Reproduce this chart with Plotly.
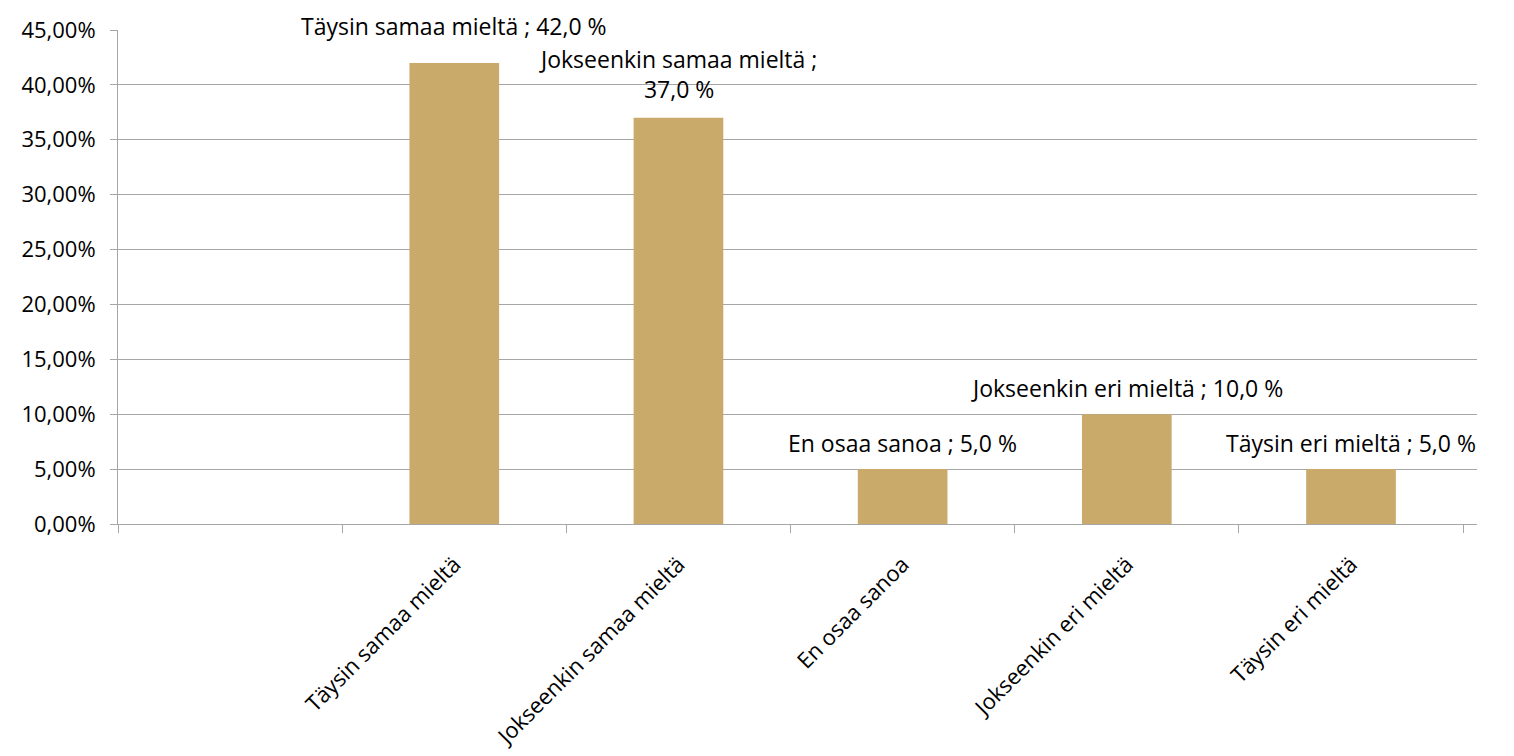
import plotly.graph_objects as go

# Data
categories = ["", "Täysin samaa mieltä", "Jokseenkin samaa mieltä", "En osaa sanoa",
              "Jokseenkin eri mieltä", "Täysin eri mieltä"]
values = [None, 42.0, 37.0, 5.0, 10.0, 5.0]
y_ticks = [0, 5, 10, 15, 20, 25, 30, 35, 40, 45]

# Style
bar_color = "#C9AA6A"
grid_color = "#A6A6A6"
font_family = "Open Sans"
label_shift = [0, 20, 12, 9, 9, 9]
label_break = [False, False, True, False, False, False]

fig = go.Figure()
fig.add_trace(go.Bar(
    x=categories, y=[v if v is not None else 0 for v in values],
    marker=dict(color=bar_color, line=dict(width=0)),
    width=0.4, hoverinfo="skip",
))

for i, (c, v) in enumerate(zip(categories, values)):
    if v is None:
        continue
    val = f"{v:.1f}".replace(".", ",") + " %"
    sep = " ;<br>" if label_break[i] else " ; "
    fig.add_annotation(
        x=c, y=v, text=f"{c}{sep}{val}", showarrow=False,
        yanchor="bottom", xanchor="center", yshift=label_shift[i],
        borderpad=0,
        font=dict(family=font_family, size=23, color="#000"),
    )

fig.update_layout(
    width=1506, height=748,
    margin=dict(l=110, r=37, t=22, b=232, autoexpand=False),
    paper_bgcolor="white", plot_bgcolor="white",
    showlegend=False,
    font=dict(family=font_family, size=22, color="#000"),
    bargap=0.6,
)
fig.update_xaxes(
    type="category", tickangle=-45, showgrid=False, automargin=False,
    showline=True, linecolor=grid_color, linewidth=1,
    ticks="outside", tickson="boundaries", ticklen=8, tickcolor=grid_color,
    ticklabelstandoff=18,
    tickfont=dict(family=font_family, size=22, color="#000"),
)
fig.update_yaxes(
    range=[0, 45], tickvals=y_ticks, automargin=False,
    ticktext=[f"{t:.2f}".replace(".", ",") + "%" for t in y_ticks],
    showgrid=True, gridcolor=grid_color, gridwidth=1,
    showline=True, linecolor=grid_color, linewidth=1,
    ticks="outside", ticklen=7, tickcolor=grid_color,
    ticklabelstandoff=10,
    zeroline=False,
    tickfont=dict(family=font_family, size=22, color="#000"),
)

fig.write_html("out.html")
